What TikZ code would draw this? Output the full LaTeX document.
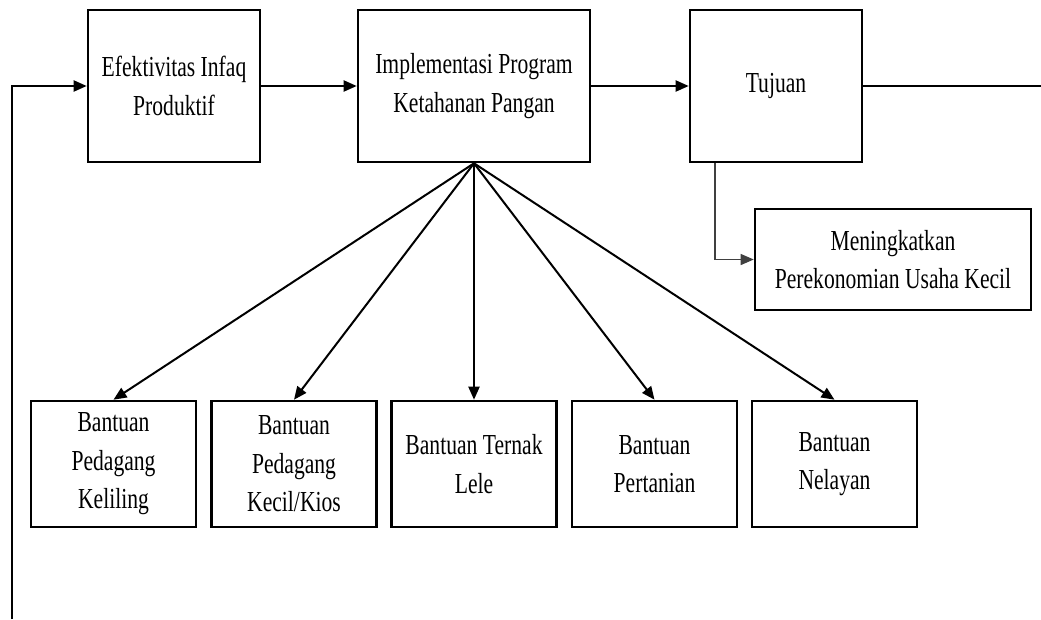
\documentclass[tikz,border=0pt]{standalone}
\usepackage{fontspec}
\setmainfont{Liberation Serif}[FakeStretch=0.745]
\usetikzlibrary{arrows.meta,positioning}
\tikzset{
  box/.style={draw=black,line width=2.6pt,fill=white,align=center,inner sep=0pt,font=\fontsize{29}{38.5}\selectfont},
  topbox/.style={box,minimum width=172pt,minimum height=152pt},
  aidbox/.style={box,minimum width=165pt,minimum height=126pt},
  line/.style={-{Triangle[length=13pt,width=11pt]},line width=2pt},
  plainline/.style={line width=2pt},
  thinline/.style={-{Triangle[length=13pt,width=11pt]},line width=1.3pt,draw=black!75}
}
\begin{document}
\begin{tikzpicture}[x=1pt,y=-1pt]
  \useasboundingbox (0,0) rectangle (1041,619);
  % top row
  \node[topbox] (efek) at (174,86) {Efektivitas Infaq\\Produktif};
  \node[topbox,minimum width=232pt] (impl) at (474,86) {Implementasi Program\\Ketahanan Pangan};
  \node[topbox] (tujuan) at (776,86) {Tujuan};
  \node[box,minimum width=276pt,minimum height=101pt] (mening) at (893,259.5) {Meningkatkan\\Perekonomian Usaha Kecil};
  % bantuan row
  \node[aidbox] (keliling) at (113.5,464) {Bantuan\\Pedagang\\Keliling};
  \node[aidbox] (kios) at (294,464) {Bantuan\\Pedagang\\Kecil/Kios};
  \node[aidbox] (lele) at (474,464) {Bantuan Ternak\\Lele};
  \node[aidbox] (tani) at (654.5,464) {Bantuan\\Pertanian};
  \node[aidbox] (nelayan) at (834.5,464) {Bantuan\\Nelayan};
  \coordinate (loopend) at (12,619);
  \coordinate (rightend) at (1041,86);

  \draw[line] (loopend) |- (efek.west);
  \draw[line] (efek) -- (impl);
  \draw[line] (impl) -- (tujuan);
  \draw[plainline] (tujuan.east) -- (rightend);
  \draw[thinline] ([xshift=-61pt]tujuan.south) |- (mening.west);
  \foreach \target in {keliling,kios,lele,tani,nelayan}
    \draw[line] (impl.south) -- (\target.north);
\end{tikzpicture}
\end{document}
